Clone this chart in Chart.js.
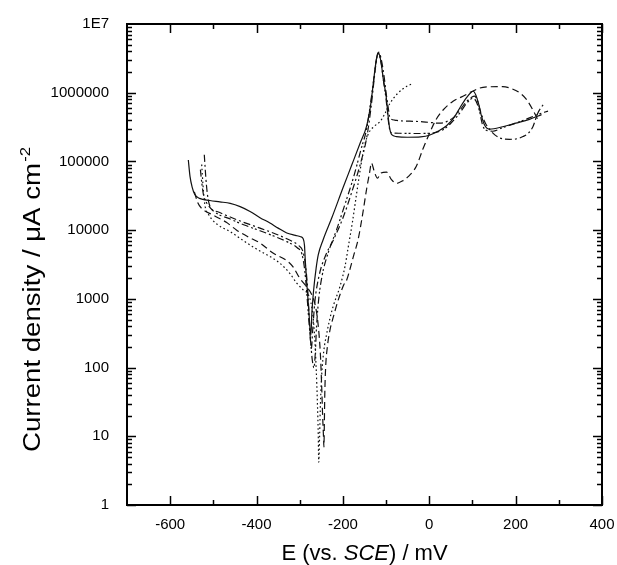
<!DOCTYPE html>
<html>
<head>
<meta charset="utf-8">
<script src="https://cdn.jsdelivr.net/npm/chart.js@4.4.1/dist/chart.umd.min.js"></script>
<style>
html,body{margin:0;padding:0;background:#fff;}
canvas{display:block;}
</style>
</head>
<body>
<canvas id="c" width="617" height="565"></canvas>
<script>
// ---- data: [E (mV vs SCE), current density (uA cm^-2)] ----
const solidCurve = [
[-558,105000],[-554,60000],[-549,42000],[-543,33000],[-532,29000],[-508,27000],[-485,25800],[-461,24500],[-438,22000],[-415,18700],[-392,15200],[-369,12700],[-350,10700],[-330,9100],[-310,8400],[-298,8000],[-292,7500],[-289,6000],[-287,3500],[-284,1800],[-281,1000],[-278,550],[-276,350],[-274,300],[-272,600],[-268,1300],[-262,2800],[-257,4400],[-246,7200],[-225,15500],[-200,41000],[-180,87000],[-160,185000],[-145,330000],[-136,650000],[-130,1300000],[-125,2400000],[-121,3400000],[-118,3800000],[-115,3500000],[-111,2600000],[-106,1500000],[-100,900000],[-96,500000],[-92,310000],[-87,245000],[-76,230000],[-50,225000],[-20,228000],[0,240000],[20,275000],[40,330000],[58,440000],[72,620000],[85,830000],[96,1000000],[102,1050000],[108,920000],[114,700000],[120,480000],[128,340000],[140,295000],[170,320000],[200,360000],[232,410000],[260,480000]
];
const dashedCurve = [
[-544,36000],[-536,25000],[-528,21000],[-500,16500],[-470,13000],[-446,10000],[-420,8000],[-392,6500],[-361,4600],[-330,3600],[-315,2900],[-300,2000],[-284,1500],[-272,1150],[-263,750],[-257,400],[-252,150],[-249,50],[-247,20],[-245,10],[-244,7],[-243,15],[-242,40],[-240,100],[-236,200],[-230,350],[-222,550],[-210,1000],[-198,1600],[-191,1900],[-183,2800],[-175,4300],[-165,7200],[-155,16000],[-145,40000],[-138,70000],[-134,95000],[-127,70000],[-120,57000],[-112,68000],[-99,70000],[-88,55000],[-76,48000],[-62,52000],[-49,60000],[-30,85000],[-15,150000],[1,260000],[15,400000],[32,560000],[55,750000],[78,890000],[100,1050000],[117,1170000],[140,1220000],[170,1230000],[190,1150000],[209,1000000],[225,800000],[240,560000],[252,400000]
];
const dashDotCurve = [
[-521,125000],[-519,80000],[-516,45000],[-512,28000],[-506,21000],[-490,18500],[-461,15500],[-430,13000],[-392,10700],[-360,9000],[-330,7500],[-303,6000],[-293,5000],[-287,3200],[-282,1500],[-279,700],[-276,300],[-273,190],[-270,350],[-265,900],[-255,2200],[-240,4300],[-222,7200],[-200,15000],[-180,35000],[-160,90000],[-145,220000],[-135,600000],[-128,1500000],[-123,2800000],[-120,3600000],[-117,3900000],[-114,3600000],[-110,2800000],[-105,1800000],[-100,1000000],[-95,600000],[-91,430000],[-80,400000],[-68,390000],[-45,385000],[-22,380000],[0,370000],[24,360000],[40,380000],[55,430000],[70,550000],[86,740000],[98,860000],[105,890000],[112,750000],[120,500000],[130,360000],[140,290000],[163,220000],[186,210000],[205,215000],[217,230000],[230,260000],[240,320000],[251,500000],[260,620000],[267,710000]
];
const dottedCurve = [
[-527,90000],[-524,45000],[-520,24000],[-510,16500],[-490,12000],[-461,9500],[-430,7000],[-400,5300],[-368,4100],[-346,3300],[-323,2350],[-307,1700],[-292,1350],[-280,1150],[-272,750],[-266,320],[-262,100],[-259,30],[-257,10],[-256,4.2],[-254,10],[-252,30],[-249,80],[-244,180],[-238,300],[-230,520],[-222,800],[-207,1500],[-195,3000],[-188,5500],[-178,13000],[-168,35000],[-158,90000],[-150,170000],[-140,260000],[-126,330000],[-114,380000],[-104,480000],[-91,700000],[-75,950000],[-60,1150000],[-53,1230000],[-42,1330000]
];
const dashDotDotCurve = [
[-530,76000],[-527,50000],[-523,33000],[-517,26000],[-500,19000],[-461,14500],[-430,12000],[-392,9800],[-360,8200],[-330,6800],[-305,5500],[-295,4500],[-289,2800],[-284,1300],[-280,600],[-275,250],[-271,130],[-267,100],[-264,160],[-261,400],[-256,1000],[-248,2200],[-235,4500],[-215,10000],[-195,24000],[-175,60000],[-158,150000],[-145,300000],[-136,700000],[-129,1500000],[-124,2600000],[-121,3400000],[-118,3700000],[-115,3400000],[-111,2600000],[-106,1500000],[-100,800000],[-95,400000],[-91,280000],[-85,260000],[-68,257000],[-30,255000],[1,257000],[32,290000],[50,360000],[70,500000],[88,720000],[101,830000],[108,760000],[116,550000],[124,330000],[135,280000],[147,275000],[170,310000],[200,360000],[232,430000],[255,490000],[275,540000]
];

const xTickValues = [-600,-400,-200,0,200,400];
const xMinorTickValues = [-500,-300,-100,100,300];
const yTickValues = [1,10,100,1000,10000,100000,1000000,10000000];
const yTickLabels = ['1','10','100','1000','10000','100000','1000000','1E7'];

const FONT = '"Liberation Sans", Arial, Helvetica, sans-serif';

const series = [
  {name:'solid', pts: solidCurve, dash: []},
  {name:'dashed', pts: dashedCurve, dash: [7,4]},
  {name:'dashdot', pts: dashDotCurve, dash: [7,3,2,3]},
  {name:'dotted', pts: dottedCurve, dash: [1.6,2.6]},
  {name:'dashdotdot', pts: dashDotDotCurve, dash: [7,3,2,2,2,3]}
];

const datasets = series.map(s => ({
  label: s.name,
  data: s.pts.map(p => ({x: p[0], y: p[1]})),
  showLine: true,
  borderColor: '#111',
  backgroundColor: '#111',
  borderWidth: 1.2,
  borderDash: s.dash,
  pointRadius: 0,
  cubicInterpolationMode: 'monotone',
  fill: false
}));

const framePlugin = {
  id: 'frame',
  afterDraw(chart) {
    const ctx = chart.ctx;
    const {left, right, top, bottom} = chart.chartArea;
    const xs = chart.scales.x, ys = chart.scales.y;
    ctx.save();
    ctx.setLineDash([]);
    ctx.strokeStyle = '#000';
    ctx.lineWidth = 2;
    ctx.strokeRect(left, top, right - left, bottom - top);
    ctx.lineWidth = 1.5;
    const tick = (x1, y1, x2, y2) => { ctx.beginPath(); ctx.moveTo(x1, y1); ctx.lineTo(x2, y2); ctx.stroke(); };
    const MAJ = 9, MIN = 5;
    xTickValues.forEach(v => { const px = Math.round(xs.getPixelForValue(v)) + 0.5; tick(px, bottom, px, bottom - MAJ); tick(px, top, px, top + MAJ); });
    xMinorTickValues.forEach(v => { const px = Math.round(xs.getPixelForValue(v)) + 0.5; tick(px, bottom, px, bottom - MIN); tick(px, top, px, top + MIN); });
    for (let d = 0; d < 7; d++) {
      for (let m = 1; m <= 9; m++) {
        const v = m * Math.pow(10, d);
        const py = Math.round(ys.getPixelForValue(v)) + 0.5;
        const len = m === 1 ? MAJ : MIN;
        tick(left, py, left + len, py);
        tick(right, py, right - len, py);
      }
    }
    // x axis title with italic SCE
    ctx.fillStyle = '#000';
    ctx.textBaseline = 'alphabetic';
    ctx.textAlign = 'left';
    const parts = [['E (vs. ', ''], ['SCE', 'italic '], [') / mV', '']];
    const size = 22;
    let total = 0;
    parts.forEach(p => { ctx.font = p[1] + size + 'px ' + FONT; total += ctx.measureText(p[0]).width; });
    let cx = (left + right) / 2 - total / 2;
    const baseY = 560;
    parts.forEach(p => { ctx.font = p[1] + size + 'px ' + FONT; ctx.fillText(p[0], cx, baseY); cx += ctx.measureText(p[0]).width; });
    // y axis title (elongated along its baseline, as in the figure)
    ctx.translate(40, 300);
    ctx.rotate(-Math.PI / 2);
    ctx.scale(1.2, 1);
    const main = 'Current density / \u03BCA cm';
    const sup = '-2';
    const ysz = 23;
    ctx.font = ysz + 'px ' + FONT;
    const wMain = ctx.measureText(main).width;
    ctx.font = '14px ' + FONT;
    const wSup = ctx.measureText(sup).width;
    let sx = -(wMain + wSup) / 2;
    ctx.font = ysz + 'px ' + FONT;
    ctx.fillText(main, sx, 0);
    ctx.font = '14px ' + FONT;
    ctx.fillText(sup, sx + wMain + 1, -10);
    ctx.restore();
  }
};

new Chart(document.getElementById('c'), {
  type: 'scatter',
  data: {datasets},
  options: {
    responsive: false,
    animation: false,
    devicePixelRatio: 1,
    layout: {padding: {top: 24, right: 15, left: 0, bottom: 0}},
    plugins: {legend: {display: false}, tooltip: {enabled: false}},
    scales: {
      x: {
        type: 'linear', min: -700, max: 400,
        grid: {display: false}, border: {display: false},
        afterBuildTicks: s => { s.ticks = xTickValues.map(v => ({value: v})); },
        afterFit: s => { s.height = 60; s.paddingLeft = 0; s.paddingRight = 0; },
        ticks: {color: '#000', font: {family: FONT, size: 15}, padding: 3, maxRotation: 0, autoSkip: false,
                callback: v => String(v)}
      },
      y: {
        type: 'logarithmic', min: 1, max: 10000000,
        grid: {display: false}, border: {display: false},
        afterBuildTicks: s => { s.ticks = yTickValues.map(v => ({value: v})); },
        afterFit: s => { s.width = 127; s.paddingTop = 0; s.paddingBottom = 0; },
        ticks: {color: '#000', font: {family: FONT, size: 15}, padding: 10, autoSkip: false,
                callback: (v, i) => yTickLabels[i]}
      }
    }
  },
  plugins: [framePlugin]
});
</script>
</body>
</html>
